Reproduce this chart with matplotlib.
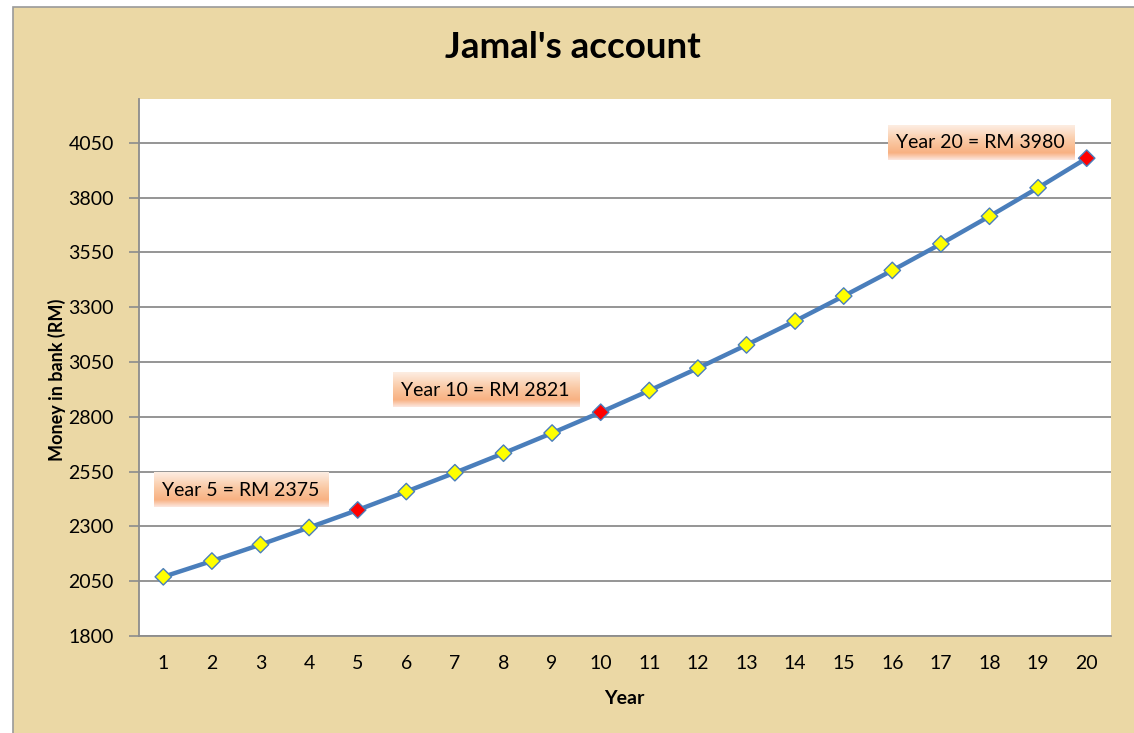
import matplotlib
matplotlib.use('Agg')
import matplotlib.pyplot as plt
import numpy as np
from matplotlib.patches import Rectangle
from matplotlib.colors import LinearSegmentedColormap

# --- data ---
years = list(range(1, 21))
money = [2070, 2142, 2217, 2295, 2375, 2459, 2545, 2634, 2726, 2821,
         2920, 3022, 3128, 3237, 3351, 3468, 3589, 3715, 3845, 3980]
highlight_years = [5, 10, 20]
y_ticks = [1800, 2050, 2300, 2550, 2800, 3050, 3300, 3550, 3800, 4050]
notes = ['Year 5 = RM 2375', 'Year 10 = RM 2821', 'Year 20 = RM 3980']
note_pos = [(2.6, 2466), (7.63, 2922), (17.82, 4050)]

plt.rcParams['font.family'] = ['Lato', 'DejaVu Sans']

fig = plt.figure(figsize=(11.34, 7.33), dpi=100)
fig.patch.set_facecolor('white')

# parchment-like chart area with grey border
fig.patches.append(Rectangle((13 / 1134, -0.02), 1.0, 1 - 7 / 733 + 0.02,
                             transform=fig.transFigure, facecolor='#EBD8A5',
                             edgecolor='#9a9a9a', linewidth=1.2, zorder=-10))

ax = fig.add_axes([139 / 1134, 97 / 733, 972 / 1134, 537 / 733])
ax.set_facecolor('white')

ax.plot(years, money, color='#4A7EBB', linewidth=3.2, zorder=3)
colors = ['red' if y in highlight_years else 'yellow' for y in years]
ax.scatter(years, money, marker='D', s=70, c=colors, edgecolors='#4A7EBB',
           linewidths=1.0, zorder=4)

ax.set_xlim(0.5, 20.5)
ax.set_ylim(1800, 4250)
ax.set_xticks(years)
ax.set_yticks(y_ticks)
ax.tick_params(axis='x', length=0, pad=14, labelsize=14)
ax.tick_params(axis='y', length=7, width=1.2, color='#8c8c8c', pad=11, labelsize=14)
ax.grid(axis='y', color='#8c8c8c', linewidth=1.3)
ax.set_axisbelow(True)
for s in ['top', 'right']:
    ax.spines[s].set_visible(False)
for s in ['left', 'bottom']:
    ax.spines[s].set_color('#8c8c8c')
    ax.spines[s].set_linewidth(1.3)

# annotation labels with a peach gradient fill
grad_cmap = LinearSegmentedColormap.from_list(
    'peach', [(0.0, '#FDEDE2'), (0.45, '#FAC9A4'), (0.8, '#F8B182'), (1.0, '#FCE6DE')])
labels = []
for txt, (x, y) in zip(notes, note_pos):
    t = ax.text(x, y, txt, ha='center', va='center', fontsize=14, zorder=6,
                bbox=dict(boxstyle='square,pad=0.45', facecolor='none',
                          edgecolor='none'))
    labels.append(t)

fig.canvas.draw()
inv = ax.transData.inverted()
grad = np.linspace(0, 1, 64).reshape(-1, 1)
for t in labels:
    bb = t.get_bbox_patch().get_window_extent()
    (x0, y0), (x1, y1) = inv.transform([(bb.x0, bb.y0), (bb.x1, bb.y1)])
    ax.imshow(grad, cmap=grad_cmap, extent=(x0, x1, y0, y1), origin='upper',
              aspect='auto', zorder=5)
ax.set_xlim(0.5, 20.5)
ax.set_ylim(1800, 4250)

fig.text(0.505, 1 - 48 / 733, "Jamal's account", ha='center', va='center',
         fontsize=26.5, fontweight='bold')
fig.text(57 / 1134, 1 - 380 / 733, 'Money in bank (RM)', rotation=90,
         ha='center', va='center', fontsize=13, fontweight='bold')
fig.text(624 / 1134, 1 - 698 / 733, 'Year', ha='center', va='center',
         fontsize=14, fontweight='bold')

fig.savefig('out.png', dpi=100)
